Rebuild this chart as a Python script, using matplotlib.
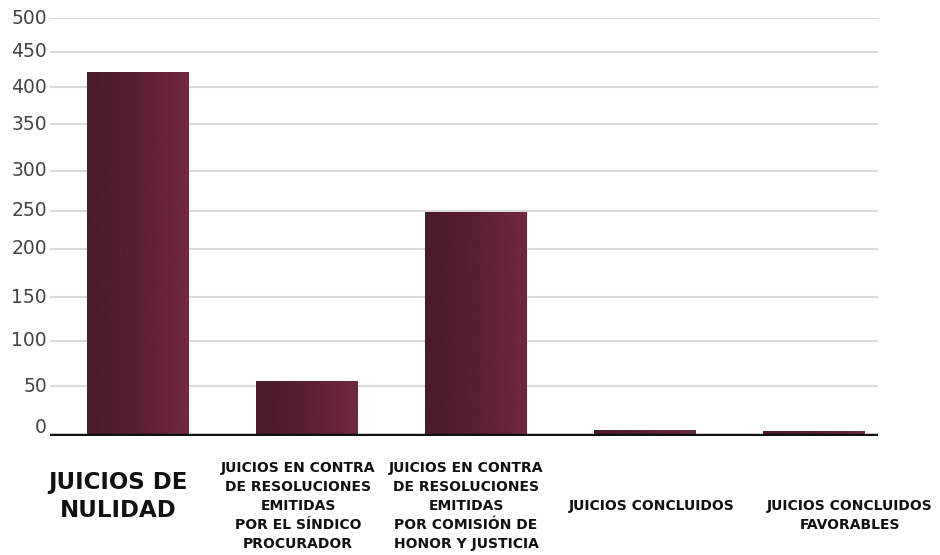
import numpy as np
import matplotlib
matplotlib.use("Agg")
import matplotlib.pyplot as plt
from matplotlib.scale import FuncScale
from matplotlib.colors import LinearSegmentedColormap
from matplotlib.transforms import blended_transform_factory

# --- data -------------------------------------------------------------
categories = [
    "JUICIOS DE\nNULIDAD",
    "JUICIOS EN CONTRA\nDE RESOLUCIONES\nEMITIDAS\nPOR EL SÍNDICO\nPROCURADOR",
    "JUICIOS EN CONTRA\nDE RESOLUCIONES\nEMITIDAS\nPOR COMISIÓN DE\nHONOR Y JUSTICIA",
    "JUICIOS CONCLUIDOS",
    "JUICIOS CONCLUIDOS\nFAVORABLES",
]
values = [422, 56, 249, 7, 6]
y_ticks = [0, 50, 100, 150, 200, 250, 300, 350, 400, 450, 500]

# --- uneven vertical spacing of the gridlines (fraction of axis height) ---
tick_frac = np.array([0.0, 0.1196, 0.2273, 0.3325, 0.4474, 0.5383,
                      0.6340, 0.7464, 0.8349, 0.9187, 1.0])
tick_vals = np.array(y_ticks, dtype=float)


def fwd(v):
    return np.interp(v, tick_vals, tick_frac)


def inv(u):
    return np.interp(u, tick_frac, tick_vals)


fig = plt.figure(figsize=(9.4, 5.55), dpi=100)
ax = fig.add_axes([50 / 940, 1 - 436 / 555, 828 / 940, 418 / 555])
ax.set_yscale(FuncScale(ax, (fwd, inv)))

# gridlines
for t in y_ticks[1:]:
    ax.axhline(t, color="#dadada", lw=1.5, zorder=0)

# gradient bars
cmap = LinearSegmentedColormap.from_list("wine", ["#4a1b2b", "#5b1f33", "#6e2941"])
grad = np.linspace(0, 1, 256).reshape(1, -1)
x = np.arange(len(values))
bar_w = 0.61
bars = ax.bar(x, values, width=bar_w, color="none", edgecolor="none", zorder=2)
for b in bars:
    x0, w, h = b.get_x(), b.get_width(), b.get_height()
    im = ax.imshow(grad, cmap=cmap, aspect="auto",
                   extent=[x0, x0 + w, 0, h], zorder=2, interpolation="bicubic")
    im.set_clip_path(b)
ax.set_xlim(-0.527, 4.379)
ax.set_ylim(0, 500)

# baseline
ax.axhline(0, color="#111111", lw=3.2, zorder=3)
ax.set_xticks([])
ax.set_yticks([])
for s in ax.spines.values():
    s.set_visible(False)

# y tick labels
trans_y = blended_transform_factory(fig.transFigure, ax.transData)
for t in y_ticks:
    ax.text(47 / 940, t + (9 if t == 0 else 0), str(t), transform=trans_y,
            ha="right", va="center", fontsize=13.5, color="#444444",
            family="DejaVu Sans", clip_on=False)

# category labels
label_x = [118, 298, 466, 652, 850]
label_y = [471, 461, 461, 499, 499]
for i, lab in enumerate(categories):
    big = i == 0
    fig.text(label_x[i] / 940, 1 - label_y[i] / 555, lab,
             ha="center", va="top", multialignment="center",
             fontsize=16.5 if big else 10, fontweight="bold",
             color="#111111", family="DejaVu Sans",
             linespacing=1.3 if big else 1.45)

fig.savefig("out.png", dpi=100, facecolor="white")
